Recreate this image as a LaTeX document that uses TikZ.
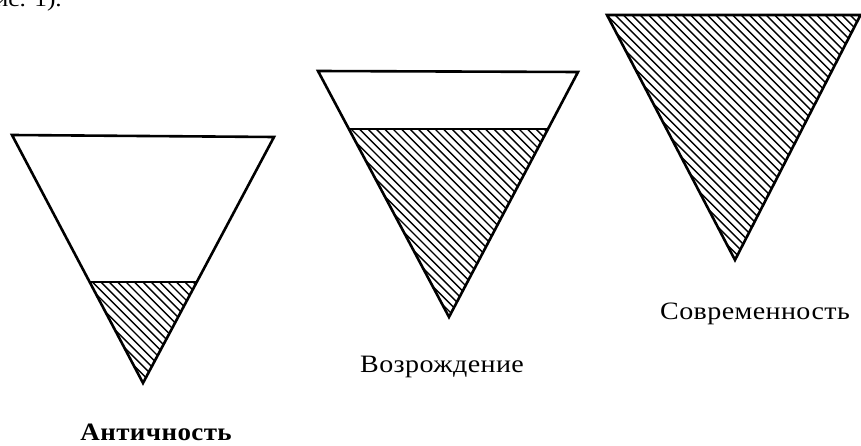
\documentclass[tikz,border=0pt]{standalone}
\usepackage{fontspec}
\setmainfont{Liberation Serif}
\newfontfamily\lblfont[LetterSpace=1.5]{Liberation Serif}
\begin{document}
\begin{tikzpicture}[x=1pt,y=-1pt,
  outline/.style={line width=2.6pt, line join=miter},
  hatchline/.style={line width=1.4pt},
  lbl/.style={inner sep=0pt, font=\lblfont\fontsize{25}{28}\selectfont},
  toptext/.style={inner sep=0pt, font=\fontsize{22}{26}\selectfont}]
\useasboundingbox (0,0) rectangle (861,446);
\clip (0,0) rectangle (861,446);
% triangle 1
\coordinate (a1) at (12,135); \coordinate (b1) at (274,137); \coordinate (c1) at (143,383);
\coordinate (l1) at (89.7,282); \coordinate (r1) at (196.8,282);
% triangle 2
\coordinate (a2) at (318,71); \coordinate (b2) at (578,72); \coordinate (c2) at (449,317);
\coordinate (l2) at (349,129); \coordinate (r2) at (547,129);
% triangle 3
\coordinate (a3) at (607,15); \coordinate (b3) at (860.5,15); \coordinate (c3) at (735,260);
% hatching
\begin{scope}
  \clip (l1) -- (r1) -- (c1) -- cycle;
  \foreach \c in {-450,-441.6,...,900} \draw[hatchline] (\c,0) -- ++(446,446);
\end{scope}
\begin{scope}
  \clip (l2) -- (r2) -- (c2) -- cycle;
  \foreach \c in {-450,-441.6,...,900} \draw[hatchline] (\c,0) -- ++(446,446);
\end{scope}
\begin{scope}
  \clip (a3) -- (b3) -- (c3) -- cycle;
  \foreach \c in {-450,-441.6,...,900} \draw[hatchline] (\c,0) -- ++(446,446);
\end{scope}
% outlines
\draw[outline] (a1) -- (b1) -- (c1) -- cycle;
\draw[outline] (l1) -- (r1);
\draw[outline] (a2) -- (b2) -- (c2) -- cycle;
\draw[outline] (l2) -- (r2);
\draw[outline] (a3) -- (b3) -- (c3) -- cycle;
% labels
\node[lbl, anchor=base east] (lab1) at (232,440) {\bfseries\scalebox{1.08}[1]{Античность}};
\node[lbl, anchor=base west] (lab2) at (360,372) {\scalebox{1.12}[1]{Возрождение}};
\node[lbl, anchor=base east] (lab3) at (850,319) {\scalebox{1.12}[1]{Современность}};
\node[toptext, anchor=base east] (top) at (62,7) {\scalebox{1.15}[1]{рис. 1).}};
\end{tikzpicture}
\end{document}
